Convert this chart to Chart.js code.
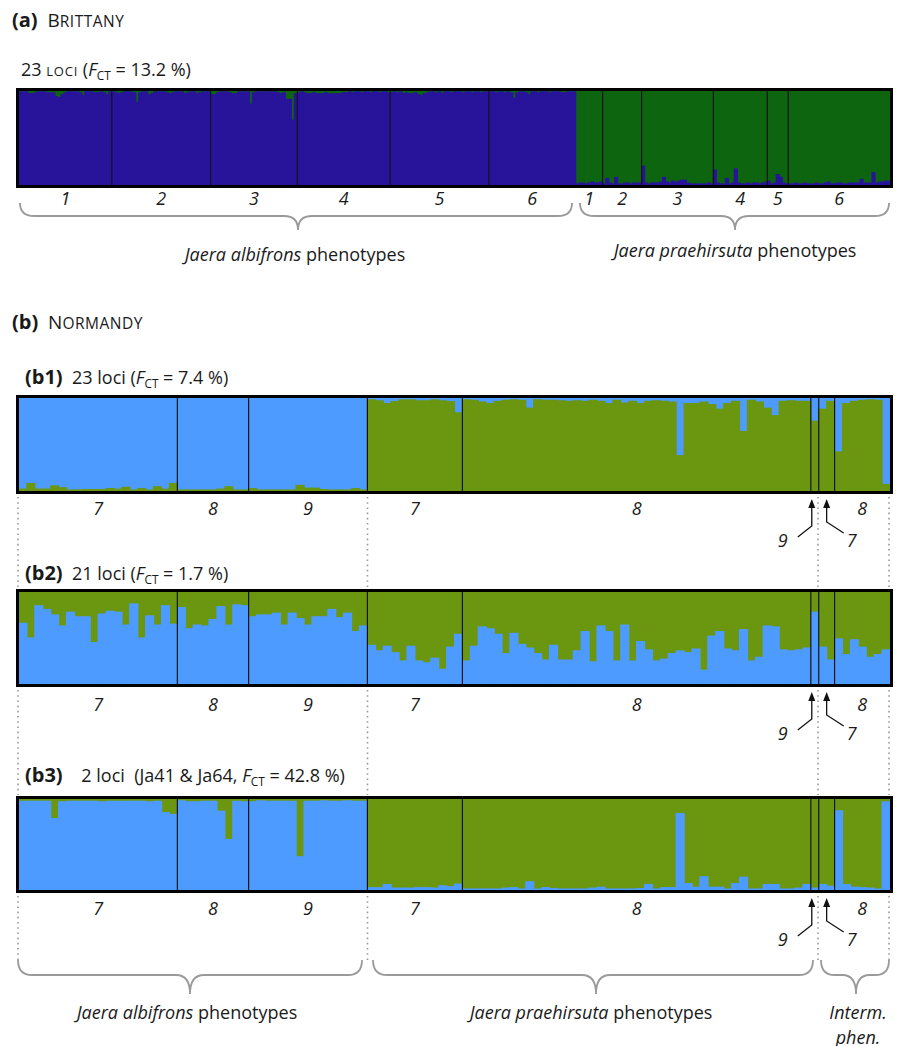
<!DOCTYPE html>
<html>
<head>
<meta charset="utf-8">
<script src="https://cdn.jsdelivr.net/npm/chart.js@4.4.1/dist/chart.umd.min.js"></script>
<style>
  body { margin: 0; background: #fff; }
  #page { position: relative; width: 901px; height: 1046px; font-family: "Open Sans", sans-serif; color: #1a1a1a; overflow: hidden; }
  .box { position: absolute; left: 16px; width: 877px; border: 3px solid #000; box-sizing: border-box; background: #fff; }
  .box canvas { display: block; }
  .t { position: absolute; white-space: nowrap; line-height: 1; transform: translateY(-50%); font-size: 18px; }
  .c { position: absolute; white-space: nowrap; line-height: 1; transform: translate(-50%, -50%); font-size: 18px; }
  .n { font-style: italic; }
  .sc { font-variant: small-caps; letter-spacing: 0.8px; }
  .caps { font-size: 15.5px; letter-spacing: 0.5px; }
  .t b { font-size: 20px; }
  sub { font-size: 0.66em; vertical-align: -0.3em; font-style: normal; line-height: 0; }
  svg { position: absolute; left: 0; top: 0; }
</style>
</head>
<body>
<div id="page">
  <div class="t" style="left:12px;top:20px;font-size:19px"><b>(a)</b>&nbsp; B<span class="caps">RITTANY</span></div>
  <div class="t" style="left:21px;top:69px">23 <span class="sc">loci</span> (<i>F</i><sub>CT</sub> = 13.2 %)</div>

  <div class="t" style="left:12px;top:322px;font-size:19px"><b>(b)</b>&nbsp; N<span class="caps">ORMANDY</span></div>
  <div class="t" style="left:25px;top:377px"><b>(b1)</b>&nbsp; 23 loci (<i>F</i><sub>CT</sub> = 7.4 %)</div>
  <div class="t" style="left:25px;top:573px"><b>(b2)</b>&nbsp; 21 loci (<i>F</i><sub>CT</sub> = 1.7 %)</div>
  <div class="t" style="left:25px;top:775px"><b>(b3)</b>&nbsp;&nbsp;&nbsp; 2 loci&nbsp; (Ja41 &amp; Ja64, <i>F</i><sub>CT</sub> = 42.8 %)</div>

  <div class="c" style="left:295px;top:254px"><i>Jaera albifrons</i> phenotypes</div>
  <div class="c" style="left:735px;top:250px"><i>Jaera praehirsuta</i> phenotypes</div>
  <div class="c" style="left:187px;top:1012px"><i>Jaera albifrons</i> phenotypes</div>
  <div class="c" style="left:591px;top:1012px"><i>Jaera praehirsuta</i> phenotypes</div>
  <div class="c n" style="left:858px;top:1012px">Interm.</div>
  <div class="c n" style="left:858px;top:1037px">phen.</div>

  <svg id="overlay" width="901" height="1046"></svg>
</div>

<script>
// --- DATA: membership in the "blue" cluster, one array per sampled population ---
const brittanyPops = ['1', '2', '3', '4', '5', '6', '1', '2', '3', '4', '5', '6'];
const brittanyQ = [
  [0.99,0.99,0.99,0.97,0.97,0.98,0.99,0.99,0.99,0.98,0.98,0.98,0.94,0.93,0.96,0.98,0.99,0.99,0.99,0.99,0.98,0.95,0.99,0.99,0.99,0.98,0.98,0.99,0.98,0.96,0.99],
  [0.99,0.98,0.97,0.98,0.99,0.99,0.99,0.98,0.88,0.98,0.99,0.99,0.96,0.97,0.99,0.99,0.99,0.99,0.98,0.97,0.98,0.99,0.99,0.99,0.97,0.98,0.99,0.99,0.97,0.98,0.99,0.99,0.99],
  [0.96,0.96,0.98,0.99,0.99,0.99,0.98,0.97,0.97,0.99,0.99,0.99,0.99,0.86,0.98,0.99,0.99,0.99,0.99,0.99,0.99,0.99,0.98,0.97,0.98,0.91,0.91,0.69,0.97],
  [0.98,0.99,0.98,0.97,0.97,0.98,0.97,0.97,0.97,0.98,0.97,0.97,0.97,0.97,0.97,0.98,0.98,0.99,0.98,0.99,0.99,0.98,0.99,0.99,0.98,0.99,0.99,0.98,0.99,0.99,0.98],
  [0.98,0.99,0.98,0.99,0.97,0.98,0.97,0.97,0.98,0.96,0.95,0.97,0.98,0.99,0.99,0.98,0.99,0.97,0.99,0.99,0.98,0.99,0.99,0.99,0.98,0.99,0.99,0.98,0.99,0.99,0.98,0.99,0.99],
  [0.99,0.99,0.98,0.99,0.99,0.98,0.99,0.98,0.92,0.98,0.99,0.99,0.98,0.96,0.99,0.99,0.98,0.99,0.99,0.99,0.98,0.99,0.99,0.99,0.98,0.98,0.99,0.99,0.99],
  [0.01,0.02,0.02,0.01,0.02,0.03,0.02,0.02,0.03],
  [0.01,0.07,0.02,0.01,0.08,0.01,0.01,0.02,0.02,0.01,0.02,0.02,0.02],
  [0.20,0.02,0.01,0.02,0.02,0.02,0.03,0.08,0.03,0.02,0.04,0.03,0.04,0.05,0.05,0.02,0.01,0.01,0.01,0.01,0.01,0.01,0.02,0.01],
  [0.16,0.02,0.01,0.01,0.07,0.01,0.02,0.17,0.02,0.01,0.01,0.02,0.01,0.02,0.02,0.01,0.02,0.03],
  [0.04,0.01,0.02,0.11,0.08,0.02,0.01],
  [0.01,0.01,0.02,0.01,0.01,0.02,0.01,0.01,0.01,0.02,0.01,0.01,0.02,0.03,0.01,0.01,0.02,0.02,0.01,0.01,0.02,0.02,0.02,0.02,0.06,0.02,0.02,0.02,0.13,0.02,0.03,0.03,0.04,0.04]
];

const normandyPops = ['7', '8', '9', '7', '8', '9', '7', '8'];
const b1Q = [
  [0.98,0.92,0.98,0.98,0.945,0.965,0.99,0.99,0.985,0.985,0.985,0.975,0.98,0.96,0.99,0.975,0.99,0.955,0.98,0.92],
  [0.99,0.99,0.99,0.99,0.99,0.98,0.955,0.99,0.99],
  [0.975,0.99,0.99,0.99,0.99,0.99,0.94,0.97,0.97,0.985,0.99,0.99,0.99,0.975,0.99],
  [0.02,0.03,0.06,0.04,0.02,0.02,0.03,0.03,0.02,0.03,0.04,0.16],
  [0.02,0.025,0.045,0.06,0.035,0.025,0.02,0.025,0.11,0.02,0.025,0.025,0.03,0.035,0.03,0.035,0.025,0.035,0.06,0.025,0.055,0.035,0.06,0.035,0.03,0.035,0.045,0.62,0.06,0.06,0.045,0.07,0.12,0.06,0.035,0.36,0.025,0.045,0.11,0.19,0.035,0.03,0.035,0.035],
  [0.25],
  [0.12,0.035],
  [0.58,0.06,0.035,0.025,0.02,0.025,0.93]
];
const b2Q = [
  [0.66,0.50,0.85,0.81,0.75,0.63,0.78,0.73,0.73,0.45,0.76,0.79,0.78,0.64,0.87,0.50,0.74,0.64,0.85,0.65],
  [0.83,0.60,0.64,0.63,0.70,0.84,0.64,0.86,0.85],
  [0.73,0.75,0.75,0.77,0.64,0.77,0.71,0.64,0.73,0.73,0.81,0.72,0.77,0.57,0.63],
  [0.42,0.36,0.41,0.34,0.25,0.41,0.25,0.23,0.28,0.16,0.40,0.54],
  [0.25,0.41,0.62,0.60,0.54,0.33,0.55,0.43,0.39,0.33,0.26,0.42,0.26,0.26,0.36,0.57,0.24,0.63,0.57,0.25,0.64,0.25,0.46,0.37,0.25,0.27,0.33,0.36,0.34,0.38,0.15,0.52,0.57,0.38,0.36,0.59,0.25,0.29,0.63,0.62,0.37,0.36,0.37,0.39],
  [0.78],
  [0.40,0.26],
  [0.49,0.32,0.48,0.40,0.29,0.32,0.37]
];
const b3Q = [
  [0.975,0.975,0.975,0.975,0.785,0.97,0.975,0.975,0.975,0.975,0.97,0.975,0.975,0.975,0.975,0.975,0.97,0.975,0.85,0.83],
  [0.98,0.97,0.97,0.975,0.975,0.865,0.555,0.975,0.97],
  [0.97,0.98,0.975,0.975,0.975,0.975,0.365,0.975,0.975,0.98,0.975,0.975,0.98,0.975,0.975],
  [0.025,0.025,0.06,0.02,0.02,0.02,0.025,0.025,0.02,0.045,0.035,0.065],
  [0.01,0.01,0.01,0.01,0.01,0.02,0.025,0.01,0.09,0.01,0.025,0.015,0.01,0.01,0.01,0.01,0.02,0.03,0.01,0.01,0.01,0.01,0.015,0.06,0.01,0.025,0.025,0.84,0.07,0.03,0.145,0.03,0.03,0.01,0.07,0.14,0.01,0.01,0.06,0.06,0.01,0.01,0.02,0.06],
  [0.02],
  [0.06,0.04],
  [0.87,0.06,0.03,0.025,0.02,0.01,0.97]
];

// colours
const BLUE_A = '#28139b', GREEN_A = '#0e6510';
const BLUE_B = '#4e9bff', GREEN_B = '#6b9610';

const panels = [
  { top: 88,  height: 100, pops: brittanyPops, q: brittanyQ, blue: BLUE_A, green: GREEN_A, blueOnTop: false, skipSep: [5], labelDy: 10, arrows: false },
  { top: 395, height: 99,  pops: normandyPops, q: b1Q, blue: BLUE_B, green: GREEN_B, blueOnTop: true,  skipSep: [], labelDy: 14, arrows: true },
  { top: 589, height: 98,  pops: normandyPops, q: b2Q, blue: BLUE_B, green: GREEN_B, blueOnTop: false, skipSep: [], labelDy: 17, arrows: true },
  { top: 796, height: 97,  pops: normandyPops, q: b3Q, blue: BLUE_B, green: GREEN_B, blueOnTop: false, skipSep: [], labelDy: 15, arrows: true }
];

// vertical lines between populations
const separators = {
  id: 'separators',
  afterDatasetsDraw(chart, args, opts) {
    const x = chart.scales.x, ctx = chart.ctx, area = chart.chartArea;
    ctx.save();
    ctx.strokeStyle = '#141414';
    ctx.lineWidth = 1.2;
    let i = 0;
    opts.sizes.forEach((n, g) => {
      i += n;
      if (g === opts.sizes.length - 1 || opts.skip.includes(g)) return;
      const px = (x.getPixelForValue(i - 1) + x.getPixelForValue(i)) / 2;
      ctx.beginPath();
      ctx.moveTo(px, area.top);
      ctx.lineTo(px, area.bottom);
      ctx.stroke();
    });
    ctx.restore();
  }
};

const page = document.getElementById('page');
const svg = document.getElementById('overlay');
const BORDER = 3;

function svgEl(tag, attrs) {
  const el = document.createElementNS('http://www.w3.org/2000/svg', tag);
  for (const k in attrs) el.setAttribute(k, attrs[k]);
  svg.appendChild(el);
  return el;
}

function addLabel(text, cx, cy) {
  const d = document.createElement('div');
  d.className = 'c n';
  d.style.left = cx + 'px';
  d.style.top = cy + 'px';
  d.textContent = text;
  page.appendChild(d);
}

panels.forEach(p => {
  const box = document.createElement('div');
  box.className = 'box';
  box.style.top = p.top + 'px';
  box.style.height = p.height + 'px';
  const canvas = document.createElement('canvas');
  const w = 877 - 2 * BORDER, h = p.height - 2 * BORDER;
  canvas.width = w; canvas.height = h;
  canvas.style.width = w + 'px'; canvas.style.height = h + 'px';
  box.appendChild(canvas);
  page.appendChild(box);

  const sizes = p.q.map(a => a.length);
  const blueVals = p.q.flat();
  const greenVals = blueVals.map(v => 1 - v);
  const labels = blueVals.map((v, i) => String(i + 1));

  const blueSet = { label: 'blue', data: blueVals, backgroundColor: p.blue };
  const greenSet = { label: 'green', data: greenVals, backgroundColor: p.green };
  const datasets = p.blueOnTop ? [greenSet, blueSet] : [blueSet, greenSet];
  datasets.forEach(d => {
    d.barPercentage = 1; d.categoryPercentage = 1; d.borderWidth = 0;
    d.inflateAmount = 0.6; // hides the hairline seams between neighbouring bars
  });

  const chart = new Chart(canvas, {
    type: 'bar',
    data: { labels, datasets },
    options: {
      responsive: false,
      animation: false,
      devicePixelRatio: 1,
      layout: { padding: 0 },
      events: [],
      scales: {
        x: { stacked: true, display: false },
        y: { stacked: true, display: false, min: 0, max: 1 }
      },
      plugins: {
        legend: { display: false },
        tooltip: { enabled: false },
        separators: { sizes, skip: p.skipSep }
      }
    },
    plugins: [separators]
  });

  // population labels under each panel
  const left = 16 + BORDER;
  const boxBottom = p.top + p.height;
  const xs = chart.scales.x;
  let start = 0;
  sizes.forEach((n, g) => {
    const cx = left + (xs.getPixelForValue(start) + xs.getPixelForValue(start + n - 1)) / 2;
    start += n;
    if (p.arrows && (g === 5 || g === 6)) {
      // tiny samples get an arrow and a label off to the side
      const top = boxBottom + 6;
      const isLeft = g === 5;
      const ax = isLeft ? cx - 3 : cx;
      const bottom = top + (isLeft ? 26 : 22);
      const ex = isLeft ? ax - 14 : ax + 17;
      svgEl('path', { d: `M${ax},${top + 6} L${ax},${bottom} L${ex},${bottom + 11}`, fill: 'none', stroke: '#111', 'stroke-width': 1.3 });
      svgEl('path', { d: `M${ax},${top - 1} L${ax - 3.5},${top + 8} L${ax + 3.5},${top + 8} Z`, fill: '#111' });
      addLabel(p.pops[g], isLeft ? ax - 29 : ax + 25, boxBottom + 46);
      return;
    }
    addLabel(p.pops[g], cx, boxBottom + p.labelDy);
  });
});

// dotted guides linking the Normandy panels
const guideX = [18, 367.5, 818, 889];
const guideY = [[497, 588], [690, 795], [896, 963]];
guideX.forEach(x => guideY.forEach(([y0, y1]) => {
  svgEl('line', { x1: x, y1: y0, x2: x, y2: y1, stroke: '#9a9a9a', 'stroke-width': 1.6, 'stroke-dasharray': '1.6 3.6' });
}));

// curly braces
function brace(x1, x2, xm, y0, y1, y2) {
  const r = Math.min(14, (x2 - x1) / 5);
  return `M${x1},${y0} Q${x1},${y1} ${x1 + r},${y1} L${xm - r},${y1} Q${xm},${y1} ${xm},${y2} ` +
         `Q${xm},${y1} ${xm + r},${y1} L${x2 - r},${y1} Q${x2},${y1} ${x2},${y0}`;
}
[
  [20, 572, 298, 203, 216, 230],
  [580, 889, 735, 203, 216, 230],
  [18, 362, 190, 960, 975, 994],
  [373, 813, 596, 960, 975, 994],
  [821, 889, 856, 960, 975, 994]
].forEach(b => svgEl('path', { d: brace(...b), fill: 'none', stroke: '#9a9a9a', 'stroke-width': 1.8 }));
</script>
</body>
</html>
